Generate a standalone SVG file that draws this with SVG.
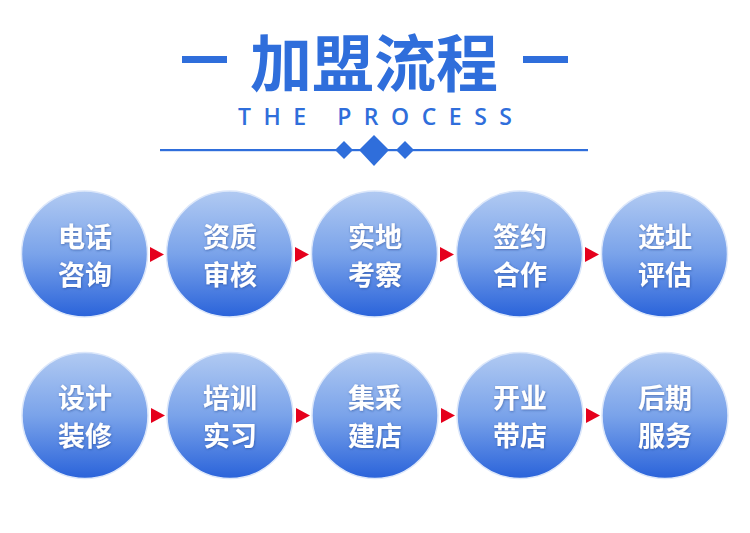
<svg xmlns="http://www.w3.org/2000/svg" width="750" height="533" viewBox="0 0 750 533">
<defs>
<linearGradient id="g" x1="0" y1="0" x2="0" y2="1">
<stop offset="0" stop-color="#b1caf2"/>
<stop offset="0.5" stop-color="#7aa3ea"/>
<stop offset="1" stop-color="#2a63da"/>
</linearGradient>
<filter id="ts" x="-20%" y="-20%" width="140%" height="140%">
<feDropShadow dx="0.5" dy="0.8" stdDeviation="0.8" flood-color="#1a3f8a" flood-opacity="0.6"/>
</filter>
</defs>
<style>
.c{fill:url(#g);stroke:#dce7fa;stroke-width:1.5}
.t{font-family:"Noto Sans CJK SC","Noto Sans",sans-serif;font-weight:bold;font-size:27px;fill:#ffffff;text-anchor:middle;filter:url(#ts)}
.blue{fill:#2f6edb}
.arr{fill:#e5001c}
</style>
<rect width="750" height="533" fill="#ffffff"/>
<g id="header">
<rect class="blue" x="182" y="56" width="45" height="7"/>
<rect class="blue" x="523" y="56" width="45" height="7"/>
<text x="374" y="87" font-family="'Noto Sans CJK SC',sans-serif" font-weight="bold" font-size="62" fill="#2f6edb" text-anchor="middle">加盟流程</text>
<text x="238" y="125" font-family="'Open Sans','Noto Sans',sans-serif" font-weight="600" font-size="23" fill="#2f6edb" textLength="274" lengthAdjust="spacing">THE  PROCESS</text>
<rect class="blue" x="160" y="149" width="428" height="2.2"/>
<polygon class="blue" points="344,141 353,150 344,159 335,150"/>
<polygon class="blue" points="374,135 389,150 374,166 359,150"/>
<polygon class="blue" points="405,141 414,150 405,159 396,150"/>
</g>
<g id="connectors">
<polygon class="arr" points="150,247 164,254.5 150,262"/>
<polygon class="arr" points="295,247 309,254.5 295,262"/>
<polygon class="arr" points="440,247 454,254.5 440,262"/>
<polygon class="arr" points="585,247 599,254.5 585,262"/>
<polygon class="arr" points="151,408 165,415.5 151,423"/>
<polygon class="arr" points="296,408 310,415.5 296,423"/>
<polygon class="arr" points="441,408 455,415.5 441,423"/>
<polygon class="arr" points="586,408 600,415.5 586,423"/>
</g>
<g id="n1"><circle class="c" cx="84.5" cy="254" r="63"/><text class="t" x="85" y="247">电话</text><text class="t" x="85" y="285">咨询</text></g>
<g id="n2"><circle class="c" cx="229.5" cy="254" r="63"/><text class="t" x="230" y="247">资质</text><text class="t" x="230" y="285">审核</text></g>
<g id="n3"><circle class="c" cx="374.5" cy="254" r="63"/><text class="t" x="375" y="247">实地</text><text class="t" x="375" y="285">考察</text></g>
<g id="n4"><circle class="c" cx="519.5" cy="254" r="63"/><text class="t" x="520" y="247">签约</text><text class="t" x="520" y="285">合作</text></g>
<g id="n5"><circle class="c" cx="664.5" cy="254" r="63"/><text class="t" x="665" y="247">选址</text><text class="t" x="665" y="285">评估</text></g>
<g id="n6"><circle class="c" cx="85" cy="415.5" r="63"/><text class="t" x="85" y="408">设计</text><text class="t" x="85" y="446">装修</text></g>
<g id="n7"><circle class="c" cx="230" cy="415.5" r="63"/><text class="t" x="230" y="408">培训</text><text class="t" x="230" y="446">实习</text></g>
<g id="n8"><circle class="c" cx="375" cy="415.5" r="63"/><text class="t" x="375" y="408">集采</text><text class="t" x="375" y="446">建店</text></g>
<g id="n9"><circle class="c" cx="520" cy="415.5" r="63"/><text class="t" x="520" y="408">开业</text><text class="t" x="520" y="446">带店</text></g>
<g id="n10"><circle class="c" cx="665" cy="415.5" r="63"/><text class="t" x="665" y="408">后期</text><text class="t" x="665" y="446">服务</text></g>
</svg>
